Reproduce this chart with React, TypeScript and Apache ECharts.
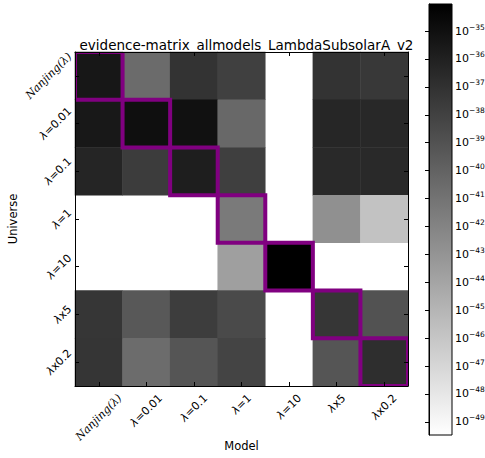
import React, { useEffect, useRef } from 'react';
import * as echarts from 'echarts';

// Categories (models on x, universes on y)
const categories = ['Nanjing(λ)', 'λ=0.01', 'λ=0.1', 'λ=1', 'λ=10', 'λx5', 'λx0.2'];

// log10(evidence) per universe row, per model column; null = below colour range (white)
const rowNanjing = [-35.42, -40.51, -37.12, -37.91, null, -37.12, -37.42];
const rowL001 = [-35.48, -34.94, -35.06, -40.33, null, -36.33, -36.45];
const rowL01 = [-36.27, -37.66, -35.85, -37.85, null, -36.51, -36.51];
const rowL1 = [null, null, null, -41.42, null, -42.75, -45.78];
const rowL10 = [null, null, null, -43.66, -34.03, null, null];
const rowLx5 = [-37.30, -39.36, -37.72, -38.51, null, -37.30, -38.99];
const rowLx02 = [-37.24, -40.57, -39.18, -38.15, null, -39.18, -36.82];
const rows = [rowNanjing, rowL001, rowL01, rowL1, rowL10, rowLx5, rowLx02];

// colour bar range (log10) and tick exponents
const logMin = -49.47;
const logMax = -34.03;
const colorbarTicks = [-49, -48, -47, -46, -45, -44, -43, -42, -41, -40, -39, -38, -37, -36, -35];

const titleText = 'evidence-matrix_allmodels_LambdaSubsolarA_v2';

const FS = 11;
const SANS = 'DejaVu Sans';
const SERIF = 'DejaVu Serif';

function measure(text: string, font: string): number {
  const ctx = document.createElement('canvas').getContext('2d');
  if (!ctx) return text.length * FS * 0.6;
  ctx.font = font;
  return ctx.measureText(text).width;
}

function labelParts(label: string): { lam: string; rest: string; nanjing: boolean } {
  if (label.startsWith('Nanjing')) return { lam: '', rest: label, nanjing: true };
  return { lam: 'λ', rest: label.slice(1), nanjing: false };
}

function buildRich(axis: 'x' | 'y') {
  const rich: Record<string, any> = {};
  const LH = FS * 1.1;
  categories.forEach((c, i) => {
    const p = labelParts(c);
    let w: number;
    if (p.nanjing) {
      w = measure(p.rest, `italic ${FS}px "${SERIF}"`);
    } else {
      w = measure(p.lam, `italic ${FS}px "${SANS}"`) + measure(p.rest, `${FS}px "${SANS}"`);
    }
    const R = (w + LH) / 2;
    const vpad = axis === 'x' ? [R, 0] : [0, R];
    if (p.nanjing) {
      rich['n' + i] = {
        fontFamily: SERIF, fontStyle: 'italic', fontSize: FS, color: '#000',
        padding: [vpad[0], R, vpad[1], 0],
      };
    } else {
      rich['l' + i] = {
        fontFamily: SANS, fontStyle: 'italic', fontSize: FS, color: '#000',
        padding: [vpad[0], 0, vpad[1], 0],
      };
      rich['r' + i] = {
        fontFamily: SANS, fontSize: FS, color: '#000',
        padding: [vpad[0], R, vpad[1], 0],
      };
    }
  });
  return rich;
}

function catFormatter(_v: string, i: number): string {
  const p = labelParts(categories[i]);
  if (p.nanjing) return `{n${i}|${p.rest}}`;
  return `{l${i}|${p.lam}}{r${i}|${p.rest}}`;
}

export default function App() {
  const ref = useRef<HTMLDivElement>(null);

  useEffect(() => {
    document.body.style.margin = '0';
    if (!ref.current) return;
    const chart = echarts.init(ref.current, undefined, { renderer: 'svg' });

    const heatData: any[] = [];
    rows.forEach((row, r) => {
      row.forEach((v, c) => {
        if (v !== null) heatData.push([c, r, v]);
      });
    });
    const diagData = categories.map((_, i) => [i, i]);

    const gl = 75, gt = 52, gw = 333, gh = 334;
    const axisCommon = {
      type: 'category' as const,
      data: categories,
      gridIndex: 0,
      z: 5,
      axisLine: { show: true, lineStyle: { color: '#000', width: 1 } },
      axisTick: { show: true, inside: true, alignWithLabel: true, length: 4, lineStyle: { color: '#000' } },
      splitLine: { show: false },
    };

    const option: any = {
      animation: false,
      backgroundColor: '#fff',
      title: {
        text: titleText,
        left: gl + gw / 2,
        top: 33,
        textAlign: 'center',
        textStyle: { fontFamily: SANS, fontSize: 13.5, fontWeight: 'normal', color: '#000' },
      },
      grid: [
        { left: gl, top: gt, width: gw, height: gh, containLabel: false, outerBoundsMode: 'none' },
        { left: 429, top: 4, width: 23, height: 431, containLabel: false, outerBoundsMode: 'none' },
      ],
      xAxis: [
        {
          ...axisCommon,
          position: 'bottom',
          name: 'Model',
          nameLocation: 'middle',
          nameGap: 54,
          nameMoveOverlap: false,
          nameTextStyle: { fontFamily: SANS, fontSize: 11.5, color: '#000' },
          axisLabel: {
            interval: 0,
            rotate: 45,
            align: 'center',
            verticalAlign: 'middle',
            margin: 6,
            formatter: catFormatter,
            rich: buildRich('x'),
          },
        },
        {
          ...axisCommon,
          position: 'top',
          axisLabel: { show: false },
        },
        { type: 'value', gridIndex: 1, min: 0, max: 1, show: false },
      ],
      yAxis: [
        {
          ...axisCommon,
          inverse: true,
          position: 'left',
          name: 'Universe',
          nameLocation: 'middle',
          nameGap: 56,
          nameRotate: 90,
          nameMoveOverlap: false,
          nameTextStyle: { fontFamily: SANS, fontSize: 11.5, color: '#000' },
          axisLabel: {
            interval: 0,
            rotate: 45,
            align: 'center',
            verticalAlign: 'middle',
            margin: 1,
            formatter: catFormatter,
            rich: buildRich('y'),
          },
        },
        {
          ...axisCommon,
          inverse: true,
          position: 'right',
          axisLabel: { show: false },
        },
        {
          type: 'value',
          gridIndex: 1,
          min: logMin,
          max: logMax,
          position: 'right',
          z: 5,
          axisLine: { show: true, lineStyle: { color: '#000', width: 1 } },
          axisTick: { show: true, inside: true, length: 4, lineStyle: { color: '#000' }, customValues: colorbarTicks },
          splitLine: { show: false },
          axisLabel: {
            margin: 3,
            customValues: colorbarTicks,
            formatter: (v: number) => `{b|10}{s|${'\u2212' + Math.abs(Math.round(v))}}`,
            rich: {
              b: { fontFamily: SANS, fontSize: 11, color: '#000' },
              s: { fontFamily: SANS, fontSize: 7.5, color: '#000', padding: [0, 0, 8, 0] },
            },
          },
        },
      ],
      visualMap: {
        type: 'continuous',
        show: false,
        min: logMin,
        max: logMax,
        dimension: 2,
        seriesIndex: 0,
        inRange: { color: ['#ffffff', '#000000'] },
      },
      series: [
        {
          type: 'heatmap',
          xAxisIndex: 0,
          yAxisIndex: 0,
          data: heatData,
          itemStyle: { borderWidth: 0 },
          emphasis: { disabled: true },
          z: 2,
        },
        {
          type: 'custom',
          xAxisIndex: 0,
          yAxisIndex: 0,
          data: diagData,
          clip: true,
          z: 3,
          silent: true,
          encode: { x: 0, y: 1 },
          renderItem: (_params: any, api: any) => {
            const c = api.coord([api.value(0), api.value(1)]);
            const s = api.size([1, 1]);
            return {
              type: 'rect',
              shape: { x: c[0] - s[0] / 2, y: c[1] - s[1] / 2, width: s[0], height: s[1] },
              style: { fill: 'none', stroke: '#800080', lineWidth: 4 },
            };
          },
        },
        {
          type: 'custom',
          xAxisIndex: 2,
          yAxisIndex: 2,
          data: [[0, logMin, logMax]],
          z: 2,
          silent: true,
          renderItem: (_params: any, api: any) => {
            const p0 = api.coord([0, api.value(2)]);
            const p1 = api.coord([1, api.value(1)]);
            return {
              type: 'rect',
              shape: { x: p0[0], y: p0[1], width: p1[0] - p0[0], height: p1[1] - p0[1] },
              style: {
                fill: new echarts.graphic.LinearGradient(0, 0, 0, 1, [
                  { offset: 0, color: '#000000' },
                  { offset: 1, color: '#ffffff' },
                ]),
                stroke: '#000',
                lineWidth: 1,
              },
            };
          },
        },
      ],
    };

    chart.setOption(option);
    return () => chart.dispose();
  }, []);

  return <div ref={ref} style={{ width: 485, height: 458 }} />;
}
